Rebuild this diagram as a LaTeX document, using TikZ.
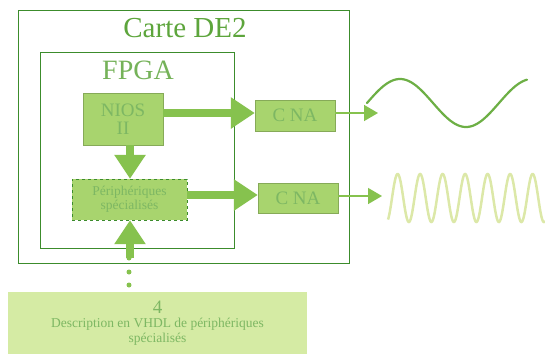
\documentclass[tikz,border=0pt]{standalone}
\usepackage{fontspec}
\setmainfont{Liberation Serif}
\usetikzlibrary{arrows.meta}
\definecolor{boxgreen}{HTML}{A8D46E}
\definecolor{arrowgreen}{HTML}{86C24E}
\definecolor{textgreen}{HTML}{5DA53C}
\definecolor{linegreen}{HTML}{3C8C2C}
\definecolor{palegreen}{HTML}{D5EBA4}
\definecolor{wavepale}{HTML}{DCE8A8}
\definecolor{wavedark}{HTML}{6DAF45}
\tikzset{
  frame/.style={draw=linegreen, line width=0.8pt},
  block/.style={fill=boxgreen, draw=boxgreen!80!black, line width=0.4pt, text=textgreen!80, inner sep=0pt, align=center},
  bus/.style={draw=arrowgreen, line width=8pt, -{Triangle[length=24pt,width=30pt]}},
  thin/.style={draw=arrowgreen, line width=1.5pt, -{Triangle[length=14pt,width=16pt]}},
  dot/.style={circle, fill=arrowgreen, inner sep=0pt, minimum size=5pt}
}
\begin{document}
\begin{tikzpicture}[x=1pt,y=-1pt]
\useasboundingbox (0,0) rectangle (545,354);
% board and FPGA frames
\draw[frame] (18,10) rectangle (349,263);
\node[text=textgreen, font=\fontsize{29}{30}\selectfont] (carte) at (185,28) {Carte DE2};
\draw[frame] (40,52) rectangle (234,248);
\node[text=textgreen!85, font=\fontsize{28}{30}\selectfont] (fpga) at (138,70) {FPGA};
% blocks
\node[block, minimum width=80pt, minimum height=52pt, font=\fontsize{19}{18}\selectfont] (nios) at (123,119) {NIOS\\II};
\node[block, minimum width=115pt, minimum height=41pt, draw=linegreen, dashed, font=\fontsize{13.5}{14}\selectfont] (periph) at (129.5,199.5) {Périphériques\\spécialisés};
\node[block, minimum width=80pt, minimum height=31pt, font=\fontsize{19}{19}\selectfont] (cna1) at (295,115.5) {C NA};
\node[block, minimum width=80pt, minimum height=30pt, font=\fontsize{19}{19}\selectfont] (cna2) at (298,198) {C NA};
% connectors
\draw[bus] (nios.east |- 0,113) -- (cna1.west |- 0,113);
\draw[bus] (periph.east |- 0,195) -- (cna2.west |- 0,195);
\draw[bus] (nios.south -| 130,0) -- (periph.north -| 130,0);
\coordinate (out1) at (378,113);
\coordinate (out2) at (382,196);
\draw[thin] (cna1.east |- out1) -- (out1);
\draw[thin] (cna2.east |- out2) -- (out2);
% description block and its link
\node[fill=palegreen, minimum width=299pt, minimum height=62pt, inner sep=0pt, align=center, text=textgreen!80, font=\fontsize{13.5}{14.5}\selectfont] (desc) at (157.5,323) {{\fontsize{19}{17}\selectfont 4}\\ Description en VHDL de périphériques\\spécialisés};
\coordinate (up) at (130,258);
\draw[bus] (up) -- (periph.south -| up);
\node[dot] (d1) at (129,258) {};
\node[dot] (d2) at (129,272) {};
\node[dot] (d3) at (129,285) {};
% analog outputs
\draw[wavedark, line width=2.2pt, line cap=round] plot[domain=367:527, samples=120, smooth] (\x, {103 - 24*sin((\x-367)/132*360)});
\draw[wavepale, line width=2.5pt] plot[domain=388:545, samples=400, smooth] (\x, {198 - 24*sin((\x-392)/22.5*360)});
\end{tikzpicture}
\end{document}
